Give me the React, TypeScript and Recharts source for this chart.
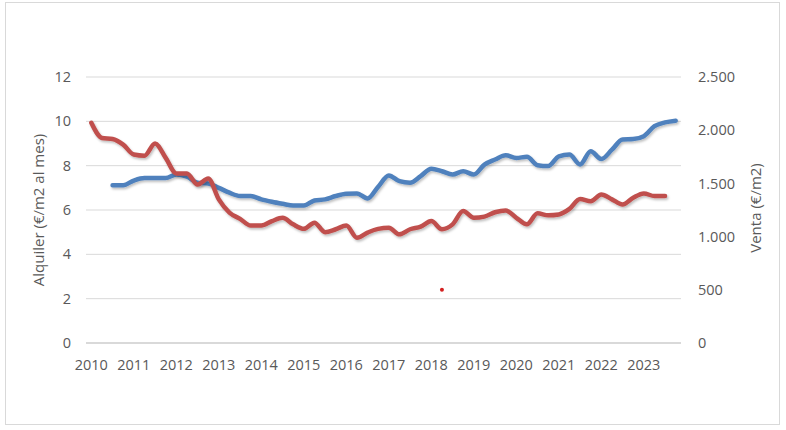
import React from 'react';
import { LineChart, Line, XAxis, YAxis, CartesianGrid, Label } from 'recharts';

// Quarterly categories 2010 Q1 .. 2023 Q4
const years = [2010, 2011, 2012, 2013, 2014, 2015, 2016, 2017, 2018, 2019, 2020, 2021, 2022, 2023];
const quarters = ['T1', 'T2', 'T3', 'T4'];

// Alquiler (€/m2 al mes) — left axis
const alquiler: (number | null)[] = [
  null, null, 7.12, 7.12, 7.33, 7.44, 7.44, 7.44,
  7.6, 7.5, 7.23, 7.2, 7.0, 6.78, 6.63, 6.63,
  6.48, 6.37, 6.28, 6.2, 6.2, 6.43, 6.48, 6.63,
  6.73, 6.75, 6.52, 7.05, 7.56, 7.3, 7.23, 7.53,
  7.86, 7.75, 7.6, 7.75, 7.6, 8.05, 8.28, 8.47,
  8.35, 8.4, 8.02, 7.98, 8.42, 8.5, 8.05, 8.65,
  8.3, 8.72, 9.18, 9.2, 9.33, 9.78, 9.95, 10.03,
];

// Venta (€/m2) — right axis
const venta: (number | null)[] = [
  2069, 1927, 1917, 1865, 1771, 1760, 1875, 1740,
  1594, 1594, 1490, 1546, 1350, 1225, 1167, 1104,
  1104, 1146, 1177, 1115, 1073, 1131, 1042, 1069,
  1104, 990, 1038, 1073, 1083, 1021, 1069, 1094,
  1146, 1069, 1115, 1240, 1177, 1188, 1229, 1246,
  1177, 1115, 1219, 1200, 1208, 1260, 1354, 1333,
  1396, 1350, 1302, 1365, 1406, 1381, 1381, null,
];

// isolated point (right axis)
const puntoAislado: (number | null)[] = Array(56).fill(null);
puntoAislado[33] = 500;

const leftTicks = [0, 2, 4, 6, 8, 10, 12];
const rightTicks = [0, 500, 1000, 1500, 2000, 2500];

const categories = years.flatMap((y) => quarters.map((q) => `${y} ${q}`));
const data = categories.map((c, i) => ({
  cat: c,
  alquiler: alquiler[i],
  venta: venta[i],
  punto: puntoAislado[i],
}));

const fmtThousands = (v: number) => String(v).replace(/\B(?=(\d{3})+(?!\d))/g, '.');

const FONT = '"Open Sans", "Noto Sans", sans-serif';
const TXT = '#595959';

export default function App() {
  return (
    <div style={{ position: 'absolute', left: 0, top: 0, width: 786, height: 430, background: '#fff' }}>
      <div
        style={{
          position: 'absolute',
          left: 5,
          top: 2,
          width: 773,
          height: 421,
          border: '1px solid #d9d9d9',
          boxSizing: 'content-box',
        }}
      />
      <div style={{ position: 'absolute', left: 0, top: 0 }}>
        <LineChart
          width={786}
          height={430}
          data={data}
          margin={{ top: 77, right: 0, bottom: 0, left: 0 }}
          style={{ fontFamily: FONT }}
        >
          <defs>
            <filter id="shadow" x="-5%" y="-20%" width="110%" height="140%">
              <feDropShadow dx="1.2" dy="1.8" stdDeviation="1.2" floodColor="#000" floodOpacity="0.25" />
            </filter>
          </defs>
          <CartesianGrid yAxisId="left" vertical={false} stroke="#d9d9d9" strokeWidth={1} />
          <XAxis
            dataKey="cat"
            height={87}
            interval={3}
            tickFormatter={(v: string) => v.slice(0, 4)}
            tickLine={false}
            axisLine={{ stroke: '#d9d9d9', strokeWidth: 2 }}
            tickSize={0}
            tickMargin={17}
            padding={{ left: 5.31, right: 5.31 }}
            tick={{ fill: TXT, fontSize: 14.5, fontFamily: FONT }}
          />
          <YAxis
            yAxisId="left"
            orientation="left"
            width={86}
            domain={[0, 12]}
            ticks={leftTicks}
            tickLine={false}
            axisLine={false}
            tickSize={0}
            tickMargin={15}
            tick={{ fill: TXT, fontSize: 14.5, fontFamily: FONT }}
          >
            <Label
              content={() => (
                <text
                  x={37.5}
                  y={210}
                  transform="rotate(-90 37.5 210)"
                  textAnchor="middle"
                  dominantBaseline="central"
                  fill={TXT}
                  fontSize={15}
                  fontFamily={FONT}
                >
                  Alquiler (€/m2 al mes)
                </text>
              )}
            />
          </YAxis>
          <YAxis
            yAxisId="right"
            orientation="right"
            width={105}
            domain={[0, 2500]}
            ticks={rightTicks}
            tickFormatter={fmtThousands}
            tickLine={false}
            axisLine={false}
            tickSize={0}
            tickMargin={17}
            tick={{ fill: TXT, fontSize: 14.5, fontFamily: FONT }}
          >
            <Label
              content={() => (
                <text
                  x={755}
                  y={208}
                  transform="rotate(-90 755 208)"
                  textAnchor="middle"
                  dominantBaseline="central"
                  fill={TXT}
                  fontSize={15}
                  fontFamily={FONT}
                >
                  Venta (€/m2)
                </text>
              )}
            />
          </YAxis>
          <Line
            yAxisId="left"
            dataKey="alquiler"
            type="monotone"
            stroke="#4f81bd"
            strokeWidth={4.5}
            dot={false}
            activeDot={false}
            connectNulls={false}
            isAnimationActive={false}
            filter="url(#shadow)"
            strokeLinecap="round"
          />
          <Line
            yAxisId="right"
            dataKey="venta"
            type="monotone"
            stroke="#c0504d"
            strokeWidth={4.5}
            dot={false}
            activeDot={false}
            isAnimationActive={false}
            filter="url(#shadow)"
            strokeLinecap="round"
          />
          <Line
            yAxisId="right"
            dataKey="punto"
            stroke="none"
            dot={{ r: 2, fill: '#d42020', stroke: 'none' }}
            activeDot={false}
            isAnimationActive={false}
          />
        </LineChart>
      </div>
    </div>
  );
}
